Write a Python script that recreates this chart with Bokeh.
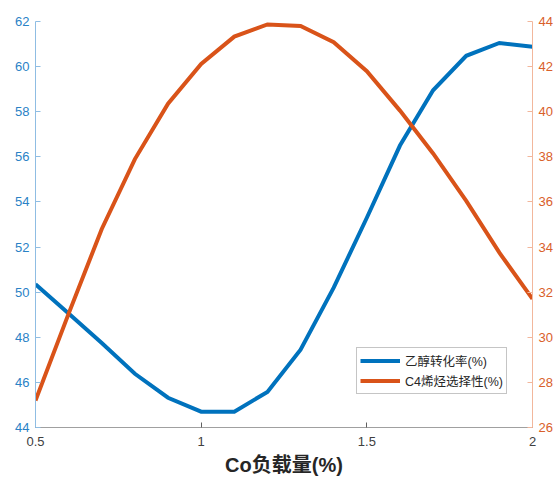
from bokeh.plotting import figure
from bokeh.models import Range1d, LinearAxis, FixedTicker, NumeralTickFormatter, Legend, LegendItem
from bokeh.embed import file_html
from bokeh.resources import INLINE

# Co loading (%) and the two measured responses
co_loading = [0.5, 0.6, 0.7, 0.8, 0.9, 1.0, 1.1, 1.2, 1.3, 1.4, 1.5, 1.6, 1.7, 1.8, 1.9, 2.0]
ethanol_conversion = [50.35, 49.05, 47.75, 46.38, 45.32, 44.7, 44.7, 45.58, 47.45, 50.2,
                      53.3, 56.5, 58.95, 60.48, 61.05, 60.88]
c4_selectivity = [27.2, 31.05, 34.8, 37.9, 40.36, 42.12, 43.33, 43.87, 43.8, 43.08,
                  41.8, 40.05, 38.15, 36.05, 33.75, 31.7]

x_ticks = [0.5, 1.0, 1.5, 2.0]
left_ticks = [44, 46, 48, 50, 52, 54, 56, 58, 60, 62]
right_ticks = [26, 28, 30, 32, 34, 36, 38, 40, 42, 44]

label_ethanol = "乙醇转化率(%)"
label_c4 = "C4烯烃选择性(%)"
x_title = "Co负载量(%)"

BLUE = "#0072BD"
ORANGE = "#D95319"
FONT = "'Liberation Sans', 'Noto Sans CJK SC'"

p = figure(width=558, height=480, output_backend="svg", toolbar_location=None,
           x_range=Range1d(0.5, 2.0), y_range=Range1d(44, 62),
           min_border_left=35, min_border_right=26, min_border_top=21, min_border_bottom=53)
p.extra_y_ranges = {"right": Range1d(26, 44)}
p.outline_line_color = None
p.xgrid.visible = False
p.ygrid.visible = False
p.background_fill_color = "white"
p.border_fill_color = "white"

# bottom axis
xa = p.xaxis[0]
xa.ticker = FixedTicker(ticks=x_ticks)
xa.formatter = NumeralTickFormatter(format="0.[0]")
xa.axis_label = x_title
xa.axis_label_text_font = FONT
xa.axis_label_text_font_style = "bold"
xa.axis_label_text_font_size = "20px"
xa.axis_label_text_color = "#262626"
xa.axis_label_standoff = 5
xa.major_label_text_font = FONT
xa.major_label_text_font_size = "13px"
xa.major_label_text_color = "#404040"
xa.major_label_standoff = 9
xa.axis_line_color = "#a0a0a0"
xa.major_tick_line_color = "#606060"
xa.major_tick_in = 5
xa.major_tick_out = 0
xa.minor_tick_line_color = None

# left axis (ethanol conversion)
ya = p.yaxis[0]
ya.ticker = FixedTicker(ticks=left_ticks)
ya.major_label_text_font = FONT
ya.major_label_text_font_size = "13px"
ya.major_label_text_color = "#2a82c6"
ya.major_label_standoff = 6
ya.axis_line_color = "#8fbde3"
ya.major_tick_line_color = "#8fbde3"
ya.major_tick_in = 5
ya.major_tick_out = 0
ya.minor_tick_line_color = None

# right axis (C4 olefin selectivity)
yr = LinearAxis(y_range_name="right", ticker=FixedTicker(ticks=right_ticks))
yr.major_label_text_font = FONT
yr.major_label_text_font_size = "13px"
yr.major_label_text_color = "#d9602a"
yr.major_label_standoff = 6
yr.axis_line_color = "#f2b79c"
yr.major_tick_line_color = "#f2b79c"
yr.major_tick_in = 5
yr.major_tick_out = 0
yr.minor_tick_line_color = None
p.add_layout(yr, "right")

r1 = p.line(co_loading, ethanol_conversion, line_color=BLUE, line_width=4, line_join="miter")
r2 = p.line(co_loading, c4_selectivity, line_color=ORANGE, line_width=4, line_join="miter",
            y_range_name="right")

legend = Legend(items=[LegendItem(label=label_ethanol, renderers=[r1]),
                       LegendItem(label=label_c4, renderers=[r2])],
                location=(321, 33))
legend.label_text_font = FONT
legend.label_text_font_size = "12.5px"
legend.label_text_color = "#262626"
legend.glyph_width = 40
legend.glyph_height = 15
legend.label_height = 15
legend.label_standoff = 5
legend.spacing = 1
legend.padding = 3
legend.margin = 0
legend.border_line_color = "#8c8c8c"
legend.border_line_width = 1
legend.background_fill_color = "white"
legend.background_fill_alpha = 1
p.add_layout(legend, "center")

open("out.html", "w").write(file_html(p, INLINE))
